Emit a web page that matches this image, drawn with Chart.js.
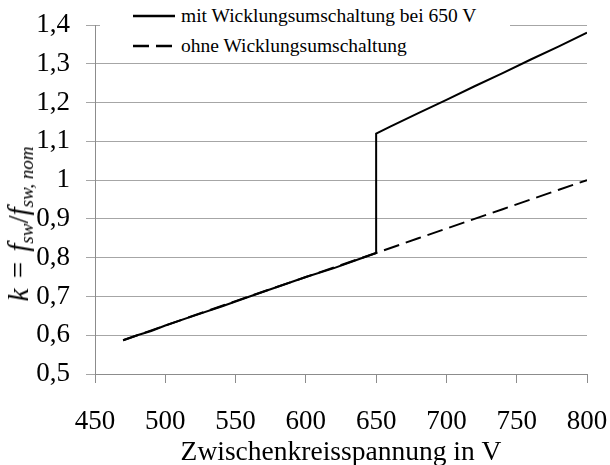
<!DOCTYPE html>
<html>
<head>
<meta charset="utf-8">
<script src="https://cdn.jsdelivr.net/npm/chart.js@4.4.0/dist/chart.umd.min.js"></script>
<style>
  html, body { margin: 0; padding: 0; background: #fff; }
  #wrap { position: relative; width: 610px; height: 465px; font-family: 'Liberation Serif'; }
  #c { position: absolute; left: 0; top: 0; }
  #legend { position: absolute; left: 100px; top: 1px; width: 410px; height: 62px; background: #fff;
            font-family: 'Liberation Serif'; font-size: 19.5px; color: #000; }
  .row { position: absolute; left: 0; height: 30px; line-height: 30px; white-space: nowrap; }
  .row svg { position: absolute; left: 33px; top: 13px; }
  .row span { position: absolute; left: 81px; top: 0; }
  #ytitle { position: absolute; left: 20px; top: 224px; transform: translate(-50%, -50%) rotate(-90deg);
            font-family: 'Liberation Serif'; font-size: 29px; white-space: nowrap; color: #000; line-height: 1; }
  #ytitle i { font-style: italic; }
  #ytitle .eq { margin: 0 3px; }
  #ytitle sub { font-size: 19px; vertical-align: -5px; font-style: italic; line-height: 1; }
</style>
</head>
<body>
<div id="wrap">
  <canvas id="c" width="610" height="465"></canvas>
  <div id="legend">
    <div class="row" style="top:0px"><svg width="44" height="4"><line x1="0" y1="2" x2="42" y2="2" stroke="#000" stroke-width="2.5"/></svg><span id="lg1"></span></div>
    <div class="row" style="top:30px"><svg width="44" height="4"><line x1="0" y1="2" x2="40" y2="2" stroke="#000" stroke-width="2.5" stroke-dasharray="16,7"/></svg><span id="lg2"></span></div>
  </div>
  <div id="ytitle"><i>k</i> <span class="eq">=</span> <i>f</i><sub>sw</sub>/<i>f</i><sub>sw, nom</sub></div>
</div>
<script>
// ---- data ----
const seriesNames = ["mit Wicklungsumschaltung bei 650 V", "ohne Wicklungsumschaltung"];
const xTitle = "Zwischenkreisspannung in V";
const mitX = [470, 480, 490, 500, 520, 540, 560, 580, 600, 620, 640, 650, 650, 660, 680, 700, 720, 740, 760, 780, 800];
const mitY = [0.587, 0.600, 0.611, 0.625, 0.650, 0.674, 0.700, 0.725, 0.750, 0.773, 0.799, 0.812, 1.120, 1.138, 1.173, 1.207, 1.242, 1.276, 1.311, 1.345, 1.380];
const ohneX = [470, 500, 550, 600, 650, 680, 700, 720, 740, 760, 780, 800];
const ohneY = [0.587, 0.625, 0.688, 0.750, 0.812, 0.850, 0.875, 0.900, 0.925, 0.950, 0.975, 1.000];
const xTicks = [450, 500, 550, 600, 650, 700, 750, 800];
const yTicks = [0.5, 0.6, 0.7, 0.8, 0.9, 1.0, 1.1, 1.2, 1.3, 1.4];

document.getElementById('lg1').textContent = seriesNames[0];
document.getElementById('lg2').textContent = seriesNames[1];

const toPts = (xs, ys) => xs.map((x, i) => ({x: x, y: ys[i]}));
const serif = "Liberation Serif";
Chart.defaults.font.family = serif;

new Chart(document.getElementById('c'), {
  type: 'line',
  data: {
    datasets: [
      { label: seriesNames[1], data: toPts(ohneX, ohneY), borderColor: '#000', borderWidth: 2, borderDash: [16, 7],
        pointRadius: 0, fill: false, tension: 0, order: 2 },
      { label: seriesNames[0], data: toPts(mitX, mitY), borderColor: '#000', borderWidth: 2,
        pointRadius: 0, fill: false, tension: 0, order: 1 }
    ]
  },
  options: {
    responsive: false,
    animation: false,
    events: [],
    layout: { autoPadding: false, padding: { left: 0, right: 23, top: 25, bottom: -6 } },
    plugins: { legend: { display: false }, tooltip: { enabled: false }, title: { display: false } },
    scales: {
      x: {
        type: 'linear', min: 450, max: 800,
        afterBuildTicks: s => { s.ticks = xTicks.map(v => ({value: v})); },
        afterFit: s => { s.height = 97; s.paddingLeft = 0; s.paddingRight = 0; },
        grid: { drawOnChartArea: false, drawTicks: true, tickLength: 9, color: '#8c8c8c', lineWidth: 1 },
        border: { display: true, color: '#8c8c8c', width: 1 },
        ticks: { color: '#000', font: { family: serif, size: 27 }, padding: 23, maxRotation: 0, autoSkip: false },
        title: { display: true, text: xTitle, color: '#000', font: { family: serif, size: 27.5 }, padding: { top: 0, bottom: 2 } }
      },
      y: {
        type: 'linear', min: 0.5, max: 1.4,
        afterBuildTicks: s => { s.ticks = yTicks.map(v => ({value: v})); },
        afterFit: s => { s.width = 95; s.paddingTop = 0; s.paddingBottom = 0; },
        grid: { drawOnChartArea: true, drawTicks: true, tickLength: 9, color: '#a6a6a6', lineWidth: 1 },
        border: { display: true, color: '#8c8c8c', width: 1 },
        ticks: { color: '#000', font: { family: serif, size: 27 }, padding: 16, autoSkip: false,
                 callback: v => (Math.round(v * 10) / 10).toString().replace('.', ',') }
      }
    }
  }
});
</script>
</body>
</html>
